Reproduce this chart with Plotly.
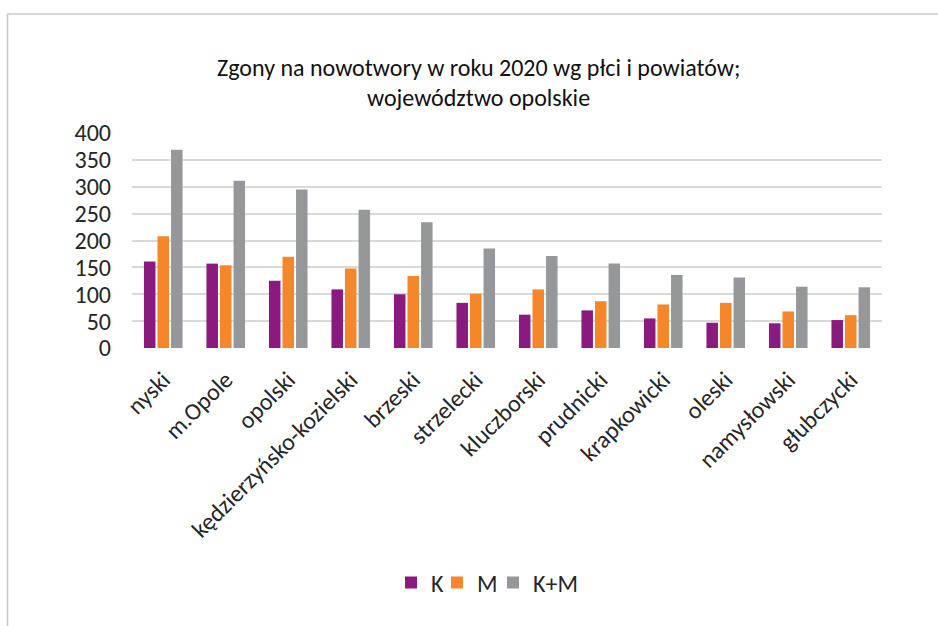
import plotly.graph_objects as go

categories = ["nyski", "m.Opole", "opolski", "kędzierzyńsko-kozielski", "brzeski",
              "strzelecki", "kluczborski", "prudnicki", "krapkowicki", "oleski",
              "namysłowski", "głubczycki"]
k_values = [161, 157, 125, 109, 100, 84, 62, 70, 55, 47, 46, 52]
m_values = [208, 154, 170, 148, 134, 101, 109, 87, 81, 84, 68, 61]
km_values = [369, 311, 295, 257, 234, 185, 171, 157, 136, 131, 114, 113]
series_names = ["K", "M", "K+M"]
series_colors = ["#8B1A7E", "#F5862A", "#96979B"]
y_ticks = [0, 50, 100, 150, 200, 250, 300, 350, 400]
title_line1 = "Zgony na nowotwory w roku 2020 wg płci i powiatów;"
title_line2 = "województwo opolskie"

W, H = 938, 626
L, R, T, B = 132, 56, 133, 278
pw, ph = W - L - R, H - T - B

def px_x(x):
    return (x - L) / pw

def px_y(y):
    return (H - B - y) / ph

FONT = "Carlito, Calibri, Lato, sans-serif"
TXT = "#262626"
FS = 24

legend_ids = ["legend", "legend2", "legend3"]
legend_square_x = [411, 457, 513]

fig = go.Figure()
for name, vals, col, lid in zip(series_names, [k_values, m_values, km_values], series_colors, legend_ids):
    fig.add_trace(go.Bar(x=categories, y=vals, name=name, legend=lid,
                         marker=dict(color=col, line=dict(width=0))))

legend_layout = {}
for lid, sx in zip(legend_ids, legend_square_x):
    legend_layout[lid] = dict(orientation="h", x=px_x(sx - 20), xanchor="left",
                              y=px_y(583), yanchor="middle", borderwidth=0,
                              font=dict(family=FONT, size=FS, color=TXT), bgcolor="rgba(0,0,0,0)")

fig.update_layout(
    width=W, height=H,
    margin=dict(l=L, r=R, t=T, b=B),
    paper_bgcolor="white", plot_bgcolor="white",
    barmode="group", bargap=0.35, bargroupgap=0.15,
    font=dict(family=FONT, size=FS, color=TXT),
    showlegend=True,
    xaxis=dict(tickangle=-45, showgrid=False, showline=False, zeroline=False,
               ticklabelstandoff=12,
               tickfont=dict(family=FONT, size=FS, color=TXT)),
    yaxis=dict(range=[0, 400], tickvals=y_ticks, showgrid=True, gridcolor="#D9D9D9", gridwidth=1.5,
               zeroline=False, showline=False, ticklabelstandoff=20,
               tickfont=dict(family=FONT, size=FS, color=TXT)),
    **legend_layout,
)

fig.add_annotation(text=title_line1, xref="paper", yref="paper",
                   x=px_x(478), y=px_y(67), xanchor="center", yanchor="middle", showarrow=False,
                   font=dict(family=FONT, size=FS, color="#111111"))
fig.add_annotation(text=title_line2, xref="paper", yref="paper",
                   x=px_x(478), y=px_y(97), xanchor="center", yanchor="middle", showarrow=False,
                   font=dict(family=FONT, size=FS, color="#111111"))

# chart frame: only the top and left edges are inside the picture
fig.add_shape(type="line", xref="paper", yref="paper",
              x0=px_x(7.5), x1=px_x(W), y0=px_y(14), y1=px_y(14),
              line=dict(color="#C8C8C8", width=1.5), layer="below")
fig.add_shape(type="line", xref="paper", yref="paper",
              x0=px_x(7.5), x1=px_x(7.5), y0=px_y(14), y1=px_y(H),
              line=dict(color="#C8C8C8", width=1.5), layer="below")

fig.write_html("out.html", config={"displayModeBar": False},
               post_script="document.documentElement.style.overflow='hidden';document.body.style.margin='0';document.body.style.overflow='hidden';")
